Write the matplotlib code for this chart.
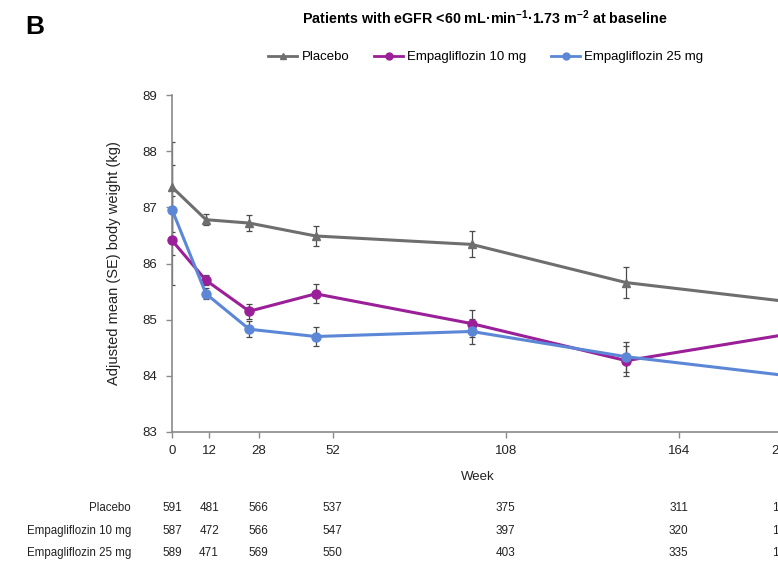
import matplotlib
matplotlib.use("Agg")
import matplotlib.pyplot as plt
from matplotlib.lines import Line2D
from matplotlib.transforms import blended_transform_factory

plt.rcParams["font.family"] = ["Liberation Sans", "DejaVu Sans"]
plt.rcParams["mathtext.default"] = "regular"

# ---- data -------------------------------------------------------------
# x positions of the visits on the time axis
x_visit = [0, 11, 25, 46.5, 97, 147, 198]

placebo = [87.36, 86.78, 86.72, 86.49, 86.34, 85.66, 85.33]
placebo_se = [0.80, 0.10, 0.14, 0.17, 0.23, 0.27, 0.30]

empa10 = [86.41, 85.70, 85.15, 85.46, 84.93, 84.27, 84.73]
empa10_se = [0.80, 0.09, 0.13, 0.17, 0.24, 0.27, 0.30]

empa25 = [86.96, 85.46, 84.83, 84.70, 84.79, 84.34, 84.01]
empa25_se = [0.80, 0.10, 0.14, 0.17, 0.23, 0.27, 0.30]

week_ticks = [0, 12, 28, 52, 108, 164, 197.5]
week_labels = ["0", "12", "28", "52", "108", "164", "220"]

# patients at risk per week column
n_placebo = [591, 481, 566, 537, 375, 311, 182]
n_empa10 = [587, 472, 566, 547, 397, 320, 175]
n_empa25 = [589, 471, 569, 550, 403, 335, 190]
row_names = ["Placebo", "Empagliflozin 10 mg", "Empagliflozin 25 mg"]

# ---- figure -----------------------------------------------------------
W, H = 778, 563
fig = plt.figure(figsize=(W / 100, H / 100), dpi=100)

# axes run past the right edge of the figure
x0, x1 = 172, 895
y_top, y_bot = 95, 432
ax = fig.add_axes([x0 / W, 1 - y_bot / H, (x1 - x0) / W, (y_bot - y_top) / H])
ax.set_xlim(0, (x1 - x0) / 3.09)
ax.set_ylim(83, 89)

series = [
    ("Placebo", placebo, placebo_se, "#6e6e6e", "^", 6),
    ("Empagliflozin 10 mg", empa10, empa10_se, "#9a1f98", "o", 6.5),
    ("Empagliflozin 25 mg", empa25, empa25_se, "#5b87d6", "o", 6.5),
]
handles = []
for name, y, se, col, mk, ms in series:
    ax.errorbar(x_visit, y, yerr=se, fmt="none", ecolor="#4a4a4a",
                elinewidth=0.9, capsize=2.5, capthick=0.9, zorder=2)
    ax.plot(x_visit, y, color=col, marker=mk, ms=ms, lw=2.2,
            clip_on=False, zorder=3)
    handles.append(Line2D([], [], color=col, marker=mk, ms=5, lw=2.0,
                          label=name))

for s in ["top", "right"]:
    ax.spines[s].set_visible(False)
for s in ["left", "bottom"]:
    ax.spines[s].set_color("#8a8a8a")
    ax.spines[s].set_linewidth(1.2)
    ax.spines[s].set_zorder(2.5)

ax.set_yticks(range(83, 90))
ax.set_xticks(week_ticks)
ax.set_xticklabels(week_labels)
ax.tick_params(axis="both", colors="#8a8a8a", labelcolor="#222222",
               labelsize=9.5, length=4, width=1)
ax.tick_params(axis="y", pad=7)
ax.tick_params(axis="x", pad=5)

ax.set_ylabel("Adjusted mean (SE) body weight (kg)", fontsize=10.5,
              color="#222222", labelpad=15)
fig.text(478 / W, 1 - 477 / H, "Week", ha="center", va="center",
         fontsize=9.5, color="#222222")

# title, panel letter, legend
fig.text(35 / W, 1 - 27 / H, "B", ha="center", va="center",
         fontsize=19, fontweight="bold")
fig.text(485 / W, 1 - 18 / H,
         "Patients with eGFR <60 mL·min$^{-1}$·1.73 m$^{-2}$ at baseline",
         ha="center", va="center", fontsize=10.3, fontweight="bold")
fig.legend(handles=handles, loc="center", bbox_to_anchor=(486 / W, 1 - 57 / H),
           ncol=3, frameon=False, fontsize=9.5, handlelength=2.2,
           handletextpad=0.3, columnspacing=1.9)

# numbers at risk table
tr = blended_transform_factory(ax.transData, fig.transFigure)
row_y = [508, 531, 553]
for name, counts, yy in zip(row_names, [n_placebo, n_empa10, n_empa25], row_y):
    fig.text(131 / W, 1 - yy / H, name, ha="right", va="center",
             fontsize=8.3, color="#222222")
    for xv, c in zip(week_ticks, counts):
        ax.text(xv, 1 - yy / H, str(c), transform=tr, ha="center",
                va="center", fontsize=8.5, color="#222222", clip_on=False)

fig.savefig("out.png", dpi=100)
